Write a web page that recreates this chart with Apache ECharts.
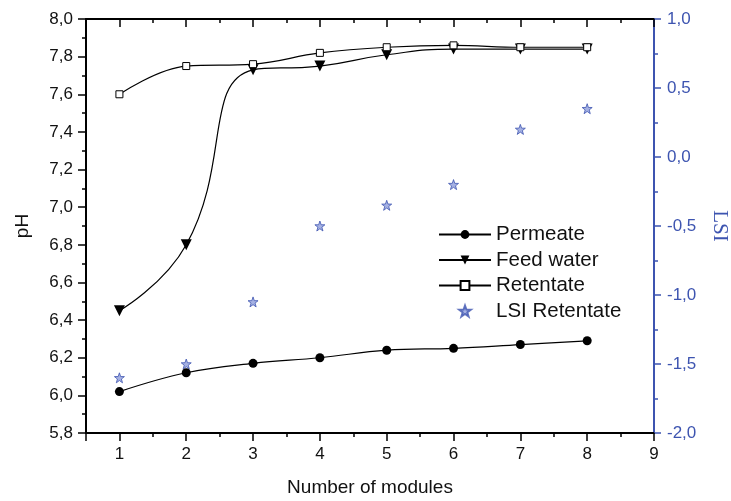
<!DOCTYPE html>
<html>
<head>
<meta charset="utf-8">
<script src="https://cdn.jsdelivr.net/npm/echarts@6/dist/echarts.min.js"></script>
<style>
  html, body { margin: 0; padding: 0; background: #fff; }
  #chart { width: 731px; height: 501px; }
</style>
</head>
<body>
<div id="chart"></div>
<script>
// values
const modules = [1, 2, 3, 4, 5, 6, 7, 8];
const permeate = [6.02, 6.12, 6.17, 6.20, 6.24, 6.25, 6.27, 6.29];
const feedWater = [6.45, 6.80, 7.73, 7.75, 7.81, 7.84, 7.84, 7.84];
const retentate = [7.60, 7.75, 7.76, 7.82, 7.85, 7.86, 7.85, 7.85];
const lsiRetentate = [-1.60, -1.50, -1.05, -0.50, -0.35, -0.20, 0.20, 0.35];

const BLUE = '#3d54b0';
const FONT = 'Liberation Sans, Arial, sans-serif';
const STAR = 'path://M0,-10L2.35,-3.24L9.51,-3.09L3.8,1.24L5.88,8.09L0,4L-5.88,8.09L-3.8,1.24L-9.51,-3.09L-2.35,-3.24Z';

function pairs(ys) {
    return modules.map((m, i) => [m, ys[i]]);
}

function comma(v) {
    return v.toFixed(1).replace('.', ',');
}

const chart = echarts.init(document.getElementById('chart'));

// x axes: a labelled one with long ticks and a bare one for the short half ticks
function xMajor(pos) {
    return {
        type: 'value', position: pos, min: 0.5, max: 9, splitNumber: 9,
        axisLine: { show: true, onZero: false, lineStyle: { color: '#000', width: 2 } },
        axisTick: { show: true, inside: pos === 'top', length: 8, lineStyle: { color: '#000', width: 1.5 } },
        axisLabel: {
            show: pos === 'bottom', color: '#111', fontSize: 17, fontFamily: FONT, margin: 13,
            formatter: v => (Number.isInteger(v) ? String(v) : '')
        },
        splitLine: { show: false },
        name: pos === 'bottom' ? 'Number of modules' : '',
        nameLocation: 'middle', nameGap: 45,
        nameTextStyle: { color: '#111', fontSize: 19, fontFamily: FONT }
    };
}
function xMinor(pos) {
    return {
        type: 'value', position: pos, min: 0.5, max: 9, interval: 1,
        axisLine: { show: false, onZero: false },
        axisTick: { show: true, inside: pos === 'top', length: 4, lineStyle: { color: '#000', width: 1.5 } },
        axisLabel: { show: false },
        splitLine: { show: false }
    };
}

const option = {
    animation: false,
    backgroundColor: '#fff',
    grid: { left: 86, right: 77, top: 19, bottom: 68, containLabel: false, outerBoundsMode: 'none' },
    legend: {
        orient: 'vertical',
        left: 433, top: 219,
        itemWidth: 52, itemHeight: 11, itemGap: 4.5,
        textStyle: { color: '#111', fontSize: 20.5, fontFamily: FONT, lineHeight: 19 },
        data: ['Permeate', 'Feed water', 'Retentate', 'LSI Retentate']
    },
    xAxis: [xMajor('bottom'), xMinor('bottom'), xMajor('top'), xMinor('top')],
    yAxis: [
        {
            type: 'value', position: 'left', min: 5.8, max: 8.0, interval: 0.2,
            axisLine: { show: true, onZero: false, lineStyle: { color: '#000', width: 2 } },
            axisTick: { show: true, length: 8, lineStyle: { color: '#000', width: 1.5 } },
            minorTick: { show: true, splitNumber: 2, length: 4, lineStyle: { color: '#000', width: 1.5 } },
            axisLabel: { color: '#111', fontSize: 17, fontFamily: FONT, margin: 13, formatter: comma },
            splitLine: { show: false },
            minorSplitLine: { show: false },
            name: 'pH', nameLocation: 'middle', nameGap: 54,
            nameTextStyle: { color: '#111', fontSize: 19, fontFamily: FONT }
        },
        {
            type: 'value', position: 'right', min: -2.0, max: 1.0, interval: 0.5,
            axisLine: { show: true, onZero: false, lineStyle: { color: BLUE, width: 2 } },
            axisTick: { show: true, length: 7, lineStyle: { color: BLUE, width: 1.5 } },
            minorTick: { show: true, splitNumber: 2, length: 4, lineStyle: { color: BLUE, width: 1.5 } },
            axisLabel: { color: BLUE, fontSize: 17, fontFamily: FONT, margin: 13, formatter: comma },
            splitLine: { show: false },
            minorSplitLine: { show: false },
            name: 'LSI', nameLocation: 'middle', nameGap: 55, nameRotate: -90,
            nameTextStyle: { color: BLUE, fontSize: 21, fontFamily: 'Liberation Serif, Times New Roman, serif' }
        }
    ],
    series: [
        {
            name: 'Permeate', type: 'line', xAxisIndex: 0, yAxisIndex: 0,
            data: pairs(permeate), smooth: 0.4,
            symbol: 'circle', symbolSize: 9,
            itemStyle: { color: '#000' },
            lineStyle: { color: '#000', width: 1.2 }
        },
        {
            name: 'Feed water', type: 'line', xAxisIndex: 0, yAxisIndex: 0,
            data: pairs(feedWater), smooth: 0.5,
            symbol: 'triangle', symbolRotate: 180, symbolSize: 11,
            itemStyle: { color: '#000' },
            lineStyle: { color: '#000', width: 1.2 }
        },
        {
            name: 'Retentate', type: 'line', xAxisIndex: 0, yAxisIndex: 0,
            data: pairs(retentate), smooth: 0.4,
            symbol: 'rect', symbolSize: 7,
            itemStyle: { color: '#fff', borderColor: '#000', borderWidth: 1 },
            lineStyle: { color: '#000', width: 1.2 }
        },
        {
            name: 'LSI Retentate', type: 'scatter', xAxisIndex: 0, yAxisIndex: 1,
            data: pairs(lsiRetentate),
            symbol: STAR, symbolSize: 10,
            itemStyle: { color: '#8e9ddc', borderColor: BLUE, borderWidth: 1 }
        }
    ]
};

chart.setOption(option);
</script>
</body>
</html>
